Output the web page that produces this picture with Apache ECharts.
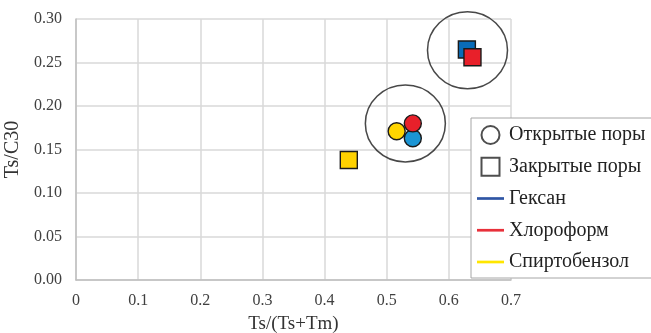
<!DOCTYPE html>
<html>
<head>
<meta charset="utf-8">
<script src="https://cdn.jsdelivr.net/npm/echarts@6/dist/echarts.min.js"></script>
<style>html,body{margin:0;padding:0;background:#fff}#c{width:651px;height:333px}</style>
</head>
<body>
<div id="c"></div>
<script>
// Data
const solvents = ['Гексан', 'Хлороформ', 'Спиртобензол'];
const openPores = [[0.542, 0.163], [0.542, 0.180], [0.516, 0.171]];   // circles
const closedPores = [[0.629, 0.265], [0.638, 0.256], [0.439, 0.138]]; // squares
const circleColors = ['#1B95D4', '#E8202A', '#FFD500'];
const squareColors = ['#0A6CB8', '#E8202A', '#FFD200'];
const lineColors = ['#2F55A4', '#E8303A', '#FFE600'];
const groupCenters = [[0.630, 0.264], [0.530, 0.180]];
const xTicks = [0, 0.1, 0.2, 0.3, 0.4, 0.5, 0.6, 0.7];
const yTicks = [0, 0.05, 0.1, 0.15, 0.2, 0.25, 0.3];

const font = '"Liberation Serif", "Times New Roman", serif';
const chart = echarts.init(document.getElementById('c'));

const series = [];
series.push({
  name: 'groups', type: 'scatter', silent: true, z: 1,
  symbol: 'circle', symbolSize: [80, 77],
  itemStyle: { color: 'rgba(0,0,0,0)', borderColor: '#1a1a1a', borderWidth: 1.5 },
  data: groupCenters
});
solvents.forEach((s, i) => {
  series.push({
    name: s, type: 'scatter', z: 3,
    data: [
      { value: closedPores[i], symbol: 'rect', symbolSize: 17, itemStyle: { color: squareColors[i] } },
      { value: openPores[i], symbol: 'circle', symbolSize: 17, itemStyle: { color: circleColors[i] } }
    ],
    itemStyle: { borderColor: '#1a1a1a', borderWidth: 1.4, opacity: 1 }
  });
});
series.push({ name: 'Открытые поры', type: 'scatter', data: [], symbol: 'circle',
  itemStyle: { color: '#fff', borderColor: '#222', borderWidth: 1.5 } });
series.push({ name: 'Закрытые поры', type: 'scatter', data: [], symbol: 'rect',
  itemStyle: { color: '#fff', borderColor: '#222', borderWidth: 1.5 } });

const lineIcon = 'path://M0,0H30V3H0Z';
const squareIcon = 'path://M0,0H10V10H0Z';

chart.setOption({
  animation: false,
  grid: { left: 76, right: 140, top: 19, bottom: 53, outerBoundsMode: 'none', containLabel: false },
  xAxis: {
    type: 'value', min: 0, max: 0.7, interval: 0.1,
    name: 'Ts/(Ts+Tm)', nameLocation: 'middle', nameGap: 35,
    nameTextStyle: { fontFamily: font, fontSize: 19, color: '#333' },
    axisLine: { show: true, lineStyle: { color: '#BFBFBF', width: 1.5 } },
    axisTick: { show: false },
    splitLine: { show: true, lineStyle: { color: '#D9D9D9', width: 1.5 } },
    axisLabel: { fontFamily: font, fontSize: 16, color: '#404040', margin: 13,
      formatter: v => v === 0 ? '0' : v.toFixed(1) }
  },
  yAxis: {
    type: 'value', min: 0, max: 0.3, interval: 0.05,
    name: 'Ts/C30', nameLocation: 'middle', nameGap: 49,
    nameTextStyle: { fontFamily: font, fontSize: 20, color: '#333' },
    axisLine: { show: true, lineStyle: { color: '#BFBFBF', width: 1.5 } },
    axisTick: { show: false },
    splitLine: { show: true, lineStyle: { color: '#D9D9D9', width: 1.5 } },
    axisLabel: { fontFamily: font, fontSize: 16, color: '#404040', margin: 14,
      formatter: v => v.toFixed(2) }
  },
  legend: {
    orient: 'vertical', left: 471, top: 118,
    padding: [7, 30, 6, 6],
    itemWidth: 27, itemHeight: 18, itemGap: 11.75,
    backgroundColor: '#fff', borderColor: '#A6A6A6', borderWidth: 1,
    textStyle: { fontFamily: font, fontSize: 20, lineHeight: 20, color: '#222' },
    data: [
      { name: 'Открытые поры', icon: 'circle' },
      { name: 'Закрытые поры', icon: squareIcon },
      { name: 'Гексан', icon: lineIcon, itemStyle: { color: lineColors[0], borderWidth: 0 } },
      { name: 'Хлороформ', icon: lineIcon, itemStyle: { color: lineColors[1], borderWidth: 0 } },
      { name: 'Спиртобензол', icon: lineIcon, itemStyle: { color: lineColors[2], borderWidth: 0 } }
    ]
  },
  series: series
});
</script>
</body>
</html>
